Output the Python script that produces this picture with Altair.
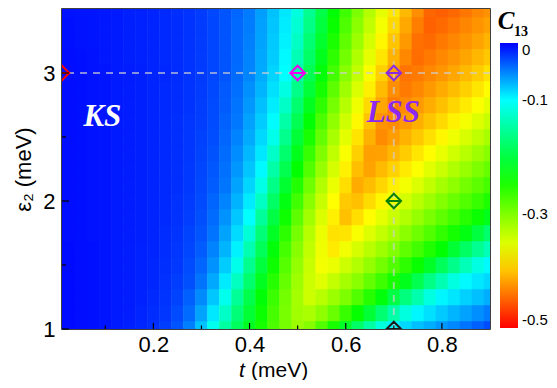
import altair as alt
import pandas as pd

# ---------------- data ----------------
t_values = [0.000, 0.025, 0.050, 0.075, 0.100, 0.125, 0.150, 0.175, 0.200, 0.225,
            0.250, 0.275, 0.300, 0.325, 0.350, 0.375, 0.400, 0.425, 0.450, 0.475,
            0.500, 0.525, 0.550, 0.575, 0.600, 0.625, 0.650, 0.675, 0.700, 0.725,
            0.750, 0.775, 0.800, 0.825, 0.850, 0.875, 0.900]
eps_values = [1.0, 1.125, 1.25, 1.375, 1.5, 1.625, 1.75, 1.875, 2.0, 2.125,
              2.25, 2.375, 2.5, 2.625, 2.75, 2.875, 3.0, 3.125, 3.25, 3.375, 3.5]
c13_rows = [
    [-0.004, -0.004, -0.005, -0.006, -0.008, -0.010, -0.012, -0.015, -0.018, -0.024, -0.033, -0.050, -0.076, -0.108, -0.148, -0.184, -0.217, -0.246, -0.273, -0.295, -0.315, -0.303, -0.276, -0.247, -0.214, -0.179, -0.147, -0.118, -0.096, -0.085, -0.075, -0.068, -0.060, -0.053, -0.045, -0.038, -0.030],
    [-0.004, -0.004, -0.005, -0.006, -0.008, -0.010, -0.011, -0.014, -0.017, -0.021, -0.029, -0.042, -0.064, -0.091, -0.129, -0.170, -0.206, -0.240, -0.270, -0.296, -0.319, -0.323, -0.308, -0.289, -0.263, -0.238, -0.206, -0.173, -0.144, -0.117, -0.097, -0.088, -0.079, -0.071, -0.064, -0.056, -0.049],
    [-0.004, -0.004, -0.005, -0.006, -0.008, -0.010, -0.011, -0.013, -0.016, -0.020, -0.026, -0.037, -0.054, -0.078, -0.109, -0.153, -0.194, -0.231, -0.264, -0.294, -0.320, -0.342, -0.331, -0.315, -0.299, -0.276, -0.254, -0.229, -0.198, -0.167, -0.142, -0.116, -0.097, -0.090, -0.082, -0.075, -0.068],
    [-0.004, -0.004, -0.005, -0.006, -0.008, -0.010, -0.011, -0.013, -0.015, -0.019, -0.024, -0.031, -0.045, -0.066, -0.092, -0.132, -0.176, -0.217, -0.254, -0.287, -0.316, -0.342, -0.353, -0.337, -0.321, -0.305, -0.286, -0.266, -0.246, -0.221, -0.192, -0.163, -0.139, -0.116, -0.098, -0.091, -0.085],
    [-0.004, -0.004, -0.005, -0.006, -0.008, -0.010, -0.011, -0.013, -0.015, -0.018, -0.022, -0.029, -0.040, -0.057, -0.080, -0.110, -0.158, -0.202, -0.242, -0.278, -0.311, -0.339, -0.364, -0.359, -0.343, -0.327, -0.311, -0.294, -0.276, -0.258, -0.239, -0.214, -0.186, -0.160, -0.137, -0.115, -0.098],
    [-0.004, -0.004, -0.005, -0.006, -0.008, -0.010, -0.011, -0.013, -0.014, -0.017, -0.021, -0.027, -0.036, -0.051, -0.071, -0.095, -0.140, -0.187, -0.230, -0.269, -0.304, -0.335, -0.362, -0.380, -0.363, -0.347, -0.332, -0.316, -0.301, -0.284, -0.268, -0.251, -0.234, -0.207, -0.181, -0.157, -0.136],
    [-0.004, -0.005, -0.006, -0.007, -0.008, -0.010, -0.011, -0.012, -0.014, -0.017, -0.020, -0.026, -0.033, -0.045, -0.064, -0.086, -0.121, -0.170, -0.216, -0.257, -0.295, -0.329, -0.359, -0.385, -0.384, -0.367, -0.352, -0.337, -0.322, -0.306, -0.291, -0.276, -0.260, -0.245, -0.226, -0.201, -0.176],
    [-0.004, -0.005, -0.006, -0.007, -0.008, -0.010, -0.011, -0.012, -0.014, -0.016, -0.019, -0.024, -0.031, -0.042, -0.057, -0.078, -0.100, -0.151, -0.198, -0.242, -0.282, -0.318, -0.350, -0.378, -0.402, -0.387, -0.371, -0.356, -0.341, -0.327, -0.312, -0.297, -0.283, -0.269, -0.255, -0.240, -0.220],
    [-0.004, -0.005, -0.006, -0.007, -0.008, -0.010, -0.011, -0.012, -0.014, -0.016, -0.019, -0.023, -0.029, -0.039, -0.051, -0.070, -0.092, -0.131, -0.180, -0.226, -0.267, -0.305, -0.339, -0.370, -0.397, -0.402, -0.388, -0.374, -0.360, -0.346, -0.331, -0.317, -0.302, -0.289, -0.276, -0.263, -0.249],
    [-0.004, -0.005, -0.006, -0.007, -0.008, -0.010, -0.011, -0.012, -0.014, -0.016, -0.018, -0.022, -0.028, -0.036, -0.046, -0.064, -0.084, -0.113, -0.162, -0.209, -0.252, -0.291, -0.327, -0.359, -0.387, -0.413, -0.404, -0.391, -0.378, -0.364, -0.350, -0.336, -0.321, -0.308, -0.294, -0.282, -0.270],
    [-0.004, -0.005, -0.006, -0.007, -0.008, -0.010, -0.011, -0.012, -0.014, -0.016, -0.018, -0.022, -0.027, -0.034, -0.044, -0.059, -0.077, -0.098, -0.145, -0.192, -0.236, -0.276, -0.313, -0.347, -0.377, -0.403, -0.417, -0.405, -0.393, -0.381, -0.368, -0.354, -0.340, -0.326, -0.313, -0.299, -0.287],
    [-0.004, -0.005, -0.006, -0.007, -0.008, -0.010, -0.011, -0.012, -0.014, -0.016, -0.018, -0.021, -0.026, -0.032, -0.042, -0.055, -0.072, -0.091, -0.128, -0.176, -0.221, -0.262, -0.300, -0.335, -0.367, -0.394, -0.419, -0.418, -0.407, -0.396, -0.383, -0.371, -0.358, -0.344, -0.331, -0.317, -0.304],
    [-0.005, -0.005, -0.006, -0.007, -0.008, -0.010, -0.011, -0.012, -0.014, -0.016, -0.018, -0.021, -0.025, -0.030, -0.040, -0.051, -0.067, -0.085, -0.110, -0.159, -0.205, -0.247, -0.286, -0.322, -0.355, -0.384, -0.410, -0.429, -0.420, -0.409, -0.398, -0.386, -0.374, -0.362, -0.348, -0.335, -0.322],
    [-0.005, -0.005, -0.006, -0.007, -0.008, -0.010, -0.011, -0.012, -0.014, -0.016, -0.018, -0.021, -0.024, -0.029, -0.038, -0.047, -0.063, -0.080, -0.099, -0.145, -0.190, -0.233, -0.273, -0.309, -0.343, -0.373, -0.400, -0.425, -0.429, -0.421, -0.411, -0.400, -0.389, -0.377, -0.365, -0.352, -0.339],
    [-0.005, -0.005, -0.006, -0.007, -0.008, -0.010, -0.011, -0.012, -0.014, -0.016, -0.017, -0.020, -0.024, -0.029, -0.036, -0.045, -0.059, -0.075, -0.093, -0.129, -0.175, -0.218, -0.258, -0.295, -0.330, -0.361, -0.389, -0.415, -0.437, -0.430, -0.422, -0.412, -0.402, -0.391, -0.380, -0.368, -0.356],
    [-0.005, -0.005, -0.006, -0.007, -0.008, -0.010, -0.011, -0.012, -0.014, -0.016, -0.017, -0.020, -0.023, -0.028, -0.035, -0.043, -0.056, -0.071, -0.088, -0.115, -0.161, -0.204, -0.245, -0.282, -0.317, -0.349, -0.378, -0.405, -0.428, -0.438, -0.431, -0.422, -0.413, -0.404, -0.394, -0.383, -0.372],
    [-0.005, -0.005, -0.006, -0.007, -0.008, -0.010, -0.011, -0.012, -0.014, -0.015, -0.017, -0.020, -0.023, -0.027, -0.033, -0.042, -0.052, -0.067, -0.083, -0.100, -0.146, -0.190, -0.230, -0.268, -0.304, -0.336, -0.367, -0.394, -0.418, -0.441, -0.438, -0.431, -0.424, -0.415, -0.406, -0.396, -0.385],
    [-0.005, -0.005, -0.006, -0.007, -0.009, -0.010, -0.012, -0.013, -0.014, -0.016, -0.017, -0.020, -0.023, -0.027, -0.033, -0.041, -0.051, -0.066, -0.080, -0.098, -0.138, -0.180, -0.221, -0.258, -0.293, -0.326, -0.356, -0.383, -0.409, -0.431, -0.445, -0.439, -0.431, -0.424, -0.416, -0.407, -0.398],
    [-0.006, -0.006, -0.007, -0.008, -0.009, -0.010, -0.012, -0.013, -0.014, -0.016, -0.017, -0.020, -0.023, -0.027, -0.033, -0.041, -0.050, -0.064, -0.079, -0.095, -0.130, -0.172, -0.211, -0.248, -0.283, -0.315, -0.346, -0.374, -0.399, -0.422, -0.443, -0.446, -0.439, -0.432, -0.425, -0.417, -0.408],
    [-0.006, -0.006, -0.007, -0.008, -0.009, -0.010, -0.012, -0.013, -0.014, -0.016, -0.017, -0.020, -0.023, -0.027, -0.033, -0.041, -0.049, -0.063, -0.077, -0.093, -0.123, -0.163, -0.202, -0.239, -0.274, -0.306, -0.336, -0.364, -0.390, -0.414, -0.436, -0.451, -0.446, -0.440, -0.432, -0.425, -0.418],
    [-0.006, -0.007, -0.008, -0.008, -0.009, -0.010, -0.012, -0.013, -0.014, -0.016, -0.018, -0.020, -0.023, -0.028, -0.033, -0.040, -0.048, -0.062, -0.076, -0.091, -0.117, -0.157, -0.195, -0.231, -0.266, -0.298, -0.328, -0.356, -0.382, -0.406, -0.428, -0.448, -0.452, -0.447, -0.440, -0.432, -0.426],
]

marker_id = ["a", "b", "c", "d", "e"]
marker_t = [0.01, 0.5, 0.7, 0.7, 0.7]
marker_eps = [3.0, 3.0, 3.0, 2.0, 1.0]

region_text = ["KS", "LSS"]
region_t = [0.094, 0.699]
region_eps = [2.66, 2.69]

guide_eps = [3.0]
guide_t = [0.7]

x_major = [0.2, 0.4, 0.6, 0.8]
x_minor = [0.1, 0.3, 0.5, 0.7]
y_major = [1, 2, 3]
y_minor = [1.5, 2.5]
cbar_ticks = [0, -0.1, -0.3, -0.5]

# ---------------- styles ----------------
cmap_domain = [-0.5, -0.435, -0.37, -0.30, -0.235, -0.165, -0.1, -0.05, 0.0]
cmap_range = ["#ff0000", "#ff8000", "#ffff00", "#80ff00", "#00ff00",
              "#00ff80", "#00ffff", "#0080ff", "#0000ff"]
marker_colors = ["#ff0000", "#ee00ee", "#8a2be2", "#0a800a", "#1a1a1a"]

W, H = 428, 320
HALF_T = 0.0130   # half cell width (slight overlap to hide seams)
HALF_E = 0.0640   # half cell height

records = []
for i, e in enumerate(eps_values):
    for j, t in enumerate(t_values):
        records.append({"t": t, "eps": e, "c13": c13_rows[i][j]})
heat_df = pd.DataFrame(records)
heat_df["x1"] = heat_df["t"] - HALF_T
heat_df["x2"] = heat_df["t"] + HALF_T
heat_df["y1"] = heat_df["eps"] - HALF_E
heat_df["y2"] = heat_df["eps"] + HALF_E

xs = alt.Scale(domain=[0.01, 0.9], nice=False, zero=False)
ys = alt.Scale(domain=[1.0, 3.5], nice=False, zero=False)
cs = alt.Scale(domain=cmap_domain, range=cmap_range, interpolate="rgb")

heat = alt.Chart(heat_df).mark_rect(clip=True).encode(
    x=alt.X("x1:Q", scale=xs, title=None,
            axis=alt.Axis(values=x_major, format=".1f", ticks=False, domain=False,
                          grid=False, labelPadding=5)),
    x2="x2:Q",
    y=alt.Y("y1:Q", scale=ys, title="ε₂ (meV)",
            axis=alt.Axis(values=y_major, format="d", ticks=False, domain=False,
                          grid=False, labelPadding=7, titlePadding=7)),
    y2="y2:Q",
    color=alt.Color("c13:Q", scale=cs, legend=alt.Legend(
        type="gradient", title=None, orient="none", legendX=438, legendY=34,
        direction="vertical", gradientLength=285, gradientThickness=18,
        values=cbar_ticks,
        labelExpr="datum.value == 0 ? '0' : '-' + format(-datum.value, '.1f')",
        labelFont="Liberation Sans", labelFontSize=15, labelColor="black",
        labelOffset=4, gradientStrokeWidth=0, padding=0)),
)

hline = alt.Chart(pd.DataFrame({"eps": guide_eps})).mark_rule(
    color="#d0d0d0", opacity=0.65, strokeWidth=2, strokeDash=[7, 6]
).encode(y=alt.Y("eps:Q", scale=ys, axis=None))

vline = alt.Chart(pd.DataFrame({"t": guide_t})).mark_rule(
    color="#d0d0d0", opacity=0.65, strokeWidth=2, strokeDash=[7, 6]
).encode(x=alt.X("t:Q", scale=xs, axis=None))

markers_df = pd.DataFrame({"id": marker_id, "t": marker_t, "eps": marker_eps})
markers = alt.Chart(markers_df).mark_point(
    shape="M0,-1L1,0L0,1L-1,0Z M-1,0L1,0", size=210, filled=False,
    strokeWidth=2, clip=True, opacity=1
).encode(
    x=alt.X("t:Q", scale=xs, axis=None),
    y=alt.Y("eps:Q", scale=ys, axis=None),
    stroke=alt.Stroke("id:N", scale=alt.Scale(domain=marker_id, range=marker_colors), legend=None),
)

regions_df = pd.DataFrame({"label": region_text, "t": region_t, "eps": region_eps})
region_labels = alt.Chart(regions_df).mark_text(
    font="Liberation Serif", fontSize=31, fontWeight="bold", fontStyle="italic",
    align="center", baseline="middle"
).encode(
    x=alt.X("t:Q", scale=xs, axis=None),
    y=alt.Y("eps:Q", scale=ys, axis=None),
    text="label:N",
    color=alt.Color("label:N", scale=alt.Scale(domain=region_text, range=["#ffffff", "#8c28f0"]), legend=None),
)

xmaj = alt.Chart(pd.DataFrame({"v": x_major})).mark_rule(color="black", strokeWidth=1.2).encode(
    x=alt.X("v:Q", scale=xs, axis=None), y=alt.value(H), y2=alt.value(H - 6))
xmin = alt.Chart(pd.DataFrame({"v": x_minor})).mark_rule(color="black", strokeWidth=1.2).encode(
    x=alt.X("v:Q", scale=xs, axis=None), y=alt.value(H), y2=alt.value(H - 3.5))
ymaj = alt.Chart(pd.DataFrame({"v": y_major})).mark_rule(color="black", strokeWidth=1.2).encode(
    y=alt.Y("v:Q", scale=ys, axis=None), x=alt.value(0), x2=alt.value(7))
ymin = alt.Chart(pd.DataFrame({"v": y_minor})).mark_rule(color="black", strokeWidth=1.2).encode(
    y=alt.Y("v:Q", scale=ys, axis=None), x=alt.value(0), x2=alt.value(4))

# x-axis title: italic "t" followed by upright "(meV)"
xtitle_t = alt.Chart(pd.DataFrame({"s": ["t"]})).mark_text(
    font="Liberation Sans", fontSize=21, fontStyle="italic",
    align="center", baseline="alphabetic", color="black"
).encode(x=alt.value(180), y=alt.value(367.5), text="s:N")
xtitle_unit = alt.Chart(pd.DataFrame({"s": ["(meV)"]})).mark_text(
    font="Liberation Sans", fontSize=21,
    align="left", baseline="alphabetic", color="black"
).encode(x=alt.value(189), y=alt.value(367.5), text="s:N")

title_c = alt.Chart(pd.DataFrame({"s": ["C"]})).mark_text(
    font="Liberation Serif", fontSize=25, fontWeight="bold", fontStyle="italic",
    align="center", baseline="alphabetic", color="black"
).encode(x=alt.value(W + 16), y=alt.value(20), text="s:N")
title_sub = alt.Chart(pd.DataFrame({"s": ["13"]})).mark_text(
    font="Liberation Serif", fontSize=14, fontWeight="bold",
    align="center", baseline="alphabetic", color="black"
).encode(x=alt.value(W + 31), y=alt.value(27), text="s:N")

chart = alt.layer(
    heat, hline, vline, markers, region_labels, xmaj, xmin, ymaj, ymin,
    xtitle_t, xtitle_unit, title_c, title_sub
).resolve_axis(
    x="independent", y="independent"
).properties(
    width=W, height=H,
    autosize=alt.AutoSizeParams(type="none"),
    padding={"left": 54, "top": 1, "right": 59, "bottom": 51},
).configure(
    background="white"
).configure_view(
    stroke="black", strokeWidth=1.5
).configure_axis(
    labelFont="Liberation Sans", labelFontSize=22, labelColor="black",
    titleFont="Liberation Sans", titleFontSize=22, titleFontWeight="normal",
    titleColor="black"
)

chart.save("out.html", embed_options={"renderer": "svg", "actions": False})
